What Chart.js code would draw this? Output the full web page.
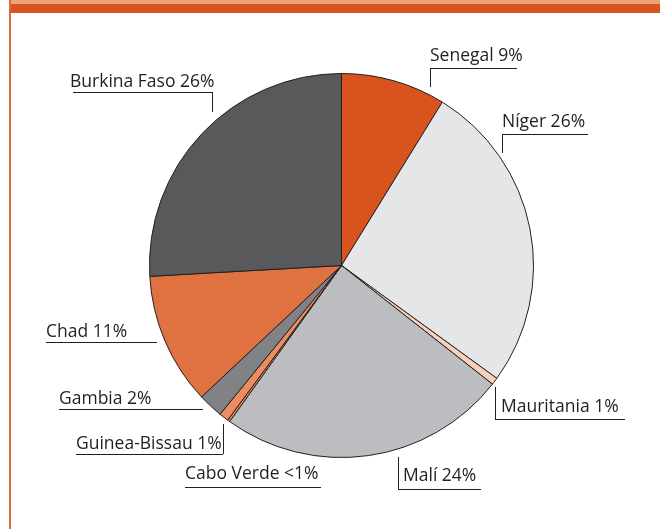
<!DOCTYPE html>
<html>
<head>
<meta charset="utf-8">
<script src="https://cdn.jsdelivr.net/npm/chart.js@4"></script>
<style>
  html, body { margin: 0; padding: 0; background: #ffffff; }
  #wrap { position: relative; width: 660px; height: 529px; overflow: hidden; }
  #topLight { position: absolute; left: 9px; top: 0; width: 651px; height: 4px; background: #eea27a; }
  #topDark { position: absolute; left: 9px; top: 4px; width: 651px; height: 9px; background: #d9541e; }
  #leftBar { position: absolute; left: 9px; top: 0; width: 2px; height: 529px; background: #e06a3a; }
  canvas { position: absolute; left: 0; top: 0; }
</style>
</head>
<body>
<div id="wrap">
  <canvas id="c" width="660" height="529"></canvas>
  <div id="topLight"></div>
  <div id="topDark"></div>
  <div id="leftBar"></div>
</div>
<script>
// Data (clockwise from top)
const countries = ["Senegal", "Níger", "Mauritania", "Malí", "Cabo Verde", "Guinea-Bissau", "Gambia", "Chad", "Burkina Faso"];
const shares = [8.8, 26.2, 0.6, 24.3, 0.2, 0.8, 2.1, 11.1, 25.9];
const shareLabels = ["9%", "26%", "1%", "24%", "<1%", "1%", "2%", "11%", "26%"];
const sliceColors = ["#d9531e", "#e5e6e8", "#f7d0b7", "#bcbdc0", "#e98a5a", "#ec8d5f", "#808285", "#e07140", "#58595b"];

// Label annotation layout: text left x, baseline y, underline [x1, x2, y], optional vertical leader [x, yTop, yBottom]
const labelLayout = [
  { tx: 430, ty: 61, ul: [430, 517, 68], v: [430, 68, 87] },
  { tx: 502, ty: 127, ul: [502, 588, 134], v: [502, 134, 153] },
  { tx: 501, ty: 412, ul: [495, 625, 419], v: [495, 387, 419] },
  { tx: 403, ty: 481, ul: [398, 481, 489], v: [398, 457, 489] },
  { tx: 185, ty: 479, ul: [185, 321, 487], v: null },
  { tx: 76, ty: 449, ul: [76, 223, 454], v: [223, 424, 454] },
  { tx: 59, ty: 404, ul: [59, 203, 409], v: null },
  { tx: 46, ty: 337, ul: [46, 157, 342], v: null },
  { tx: 70, ty: 87, ul: [73, 212, 92], v: [212, 92, 112] }
];

const labelPlugin = {
  id: 'pieLabels',
  afterDraw(chart) {
    const ctx = chart.ctx;
    ctx.save();
    ctx.font = '17.5px "Open Sans", "Noto Sans", sans-serif';
    ctx.fillStyle = '#231f20';
    ctx.strokeStyle = '#231f20';
    ctx.lineWidth = 1;
    ctx.textBaseline = 'alphabetic';
    ctx.textAlign = 'left';
    countries.forEach((name, i) => {
      const L = labelLayout[i];
      ctx.fillText(name + ' ' + shareLabels[i], L.tx, L.ty);
      ctx.beginPath();
      ctx.moveTo(L.ul[0], L.ul[2] + 0.5);
      ctx.lineTo(L.ul[1], L.ul[2] + 0.5);
      if (L.v) {
        ctx.moveTo(L.v[0] + 0.5, L.v[1]);
        ctx.lineTo(L.v[0] + 0.5, L.v[2]);
      }
      ctx.stroke();
    });
    ctx.restore();
  }
};

new Chart(document.getElementById('c'), {
  type: 'pie',
  data: {
    labels: countries,
    datasets: [{
      data: shares,
      backgroundColor: sliceColors,
      borderColor: '#231f20',
      borderWidth: 1
    }]
  },
  options: {
    responsive: false,
    animation: false,
    events: [],
    layout: { padding: { left: 149, right: 126, top: 73, bottom: 71 } },
    plugins: {
      legend: { display: false },
      tooltip: { enabled: false }
    }
  },
  plugins: [labelPlugin]
});
</script>
</body>
</html>
